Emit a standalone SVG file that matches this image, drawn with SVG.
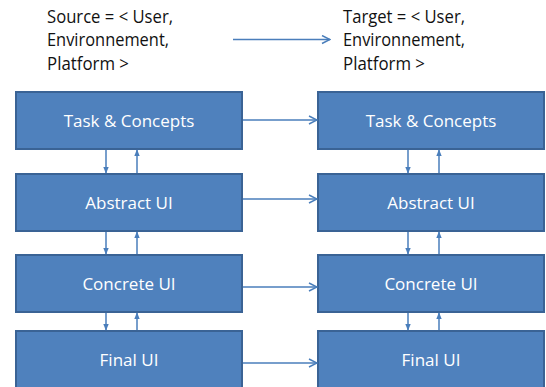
<svg xmlns="http://www.w3.org/2000/svg" width="546" height="387" viewBox="0 0 546 387">
  <style>
    .box { fill: #4F81BD; stroke: #3A6395; stroke-width: 2; }
    .label { fill: #FFFFFF; font-family: "Open Sans", "Liberation Sans", sans-serif; font-size: 17px; text-anchor: middle; dominant-baseline: central; }
    .head { fill: #111111; font-family: "Open Sans", "Liberation Sans", sans-serif; font-size: 19px; }
    .link { stroke: #4A7EBB; stroke-width: 1.5; fill: none; }
  </style>
  <defs>
    <marker id="open" viewBox="0 0 10 10" refX="9" refY="5" markerWidth="10" markerHeight="10" markerUnits="userSpaceOnUse" orient="auto">
      <path d="M1,1 L9,5 L1,9" fill="none" stroke="#4A7EBB" stroke-width="1.5"/>
    </marker>
    <marker id="solid" viewBox="0 0 10 10" refX="9" refY="5" markerWidth="7" markerHeight="7" markerUnits="userSpaceOnUse" orient="auto">
      <path d="M0,1 L10,5 L0,9 Z" fill="#4A7EBB"/>
    </marker>
  </defs>

  <!-- header texts -->
  <g id="source">
    <text class="head" x="47" y="22.5" textLength="126" lengthAdjust="spacingAndGlyphs">Source = &lt; User,</text>
    <text class="head" x="47" y="46" textLength="122" lengthAdjust="spacingAndGlyphs">Environnement,</text>
    <text class="head" x="47" y="69.5" textLength="82" lengthAdjust="spacingAndGlyphs">Platform &gt;</text>
  </g>
  <g id="target">
    <text class="head" x="343" y="22.5" textLength="122" lengthAdjust="spacingAndGlyphs">Target = &lt; User,</text>
    <text class="head" x="343" y="46" textLength="122" lengthAdjust="spacingAndGlyphs">Environnement,</text>
    <text class="head" x="343" y="69.5" textLength="82" lengthAdjust="spacingAndGlyphs">Platform &gt;</text>
  </g>

  <!-- source column -->
  <g id="src-task"><rect class="box" x="16" y="92" width="226" height="57"/><text class="label" x="129" y="120.5">Task &amp; Concepts</text></g>
  <g id="src-abstract"><rect class="box" x="16" y="174" width="226" height="57"/><text class="label" x="129" y="202.5">Abstract UI</text></g>
  <g id="src-concrete"><rect class="box" x="16" y="255" width="226" height="57"/><text class="label" x="129" y="283.5">Concrete UI</text></g>
  <g id="src-final"><rect class="box" x="16" y="331" width="226" height="70"/><text class="label" x="129" y="359.5">Final UI</text></g>

  <!-- target column -->
  <g id="tgt-task"><rect class="box" x="318" y="92" width="226" height="57"/><text class="label" x="431" y="120.5">Task &amp; Concepts</text></g>
  <g id="tgt-abstract"><rect class="box" x="318" y="174" width="226" height="57"/><text class="label" x="431" y="202.5">Abstract UI</text></g>
  <g id="tgt-concrete"><rect class="box" x="318" y="255" width="226" height="57"/><text class="label" x="431" y="283.5">Concrete UI</text></g>
  <g id="tgt-final"><rect class="box" x="318" y="331" width="226" height="70"/><text class="label" x="431" y="359.5">Final UI</text></g>

  <!-- connectors -->
  <g id="connectors">
    <line class="link" x1="233" y1="39.5" x2="330" y2="39.5" marker-end="url(#open)"/>

    <line class="link" x1="243" y1="120" x2="317" y2="120" marker-end="url(#open)"/>
    <line class="link" x1="243" y1="199" x2="317" y2="199" marker-end="url(#open)"/>
    <line class="link" x1="243" y1="287" x2="317" y2="287" marker-end="url(#open)"/>
    <line class="link" x1="243" y1="363" x2="317" y2="363" marker-end="url(#open)"/>

    <line class="link" x1="106" y1="150" x2="106" y2="173" marker-end="url(#solid)"/>
    <line class="link" x1="137" y1="173" x2="137" y2="150" marker-end="url(#solid)"/>
    <line class="link" x1="106" y1="232" x2="106" y2="254" marker-end="url(#solid)"/>
    <line class="link" x1="137" y1="254" x2="137" y2="232" marker-end="url(#solid)"/>
    <line class="link" x1="106" y1="313" x2="106" y2="330" marker-end="url(#solid)"/>
    <line class="link" x1="137" y1="330" x2="137" y2="313" marker-end="url(#solid)"/>

    <line class="link" x1="408" y1="150" x2="408" y2="173" marker-end="url(#solid)"/>
    <line class="link" x1="439" y1="173" x2="439" y2="150" marker-end="url(#solid)"/>
    <line class="link" x1="408" y1="232" x2="408" y2="254" marker-end="url(#solid)"/>
    <line class="link" x1="439" y1="254" x2="439" y2="232" marker-end="url(#solid)"/>
    <line class="link" x1="408" y1="313" x2="408" y2="330" marker-end="url(#solid)"/>
    <line class="link" x1="439" y1="330" x2="439" y2="313" marker-end="url(#solid)"/>
  </g>
</svg>
